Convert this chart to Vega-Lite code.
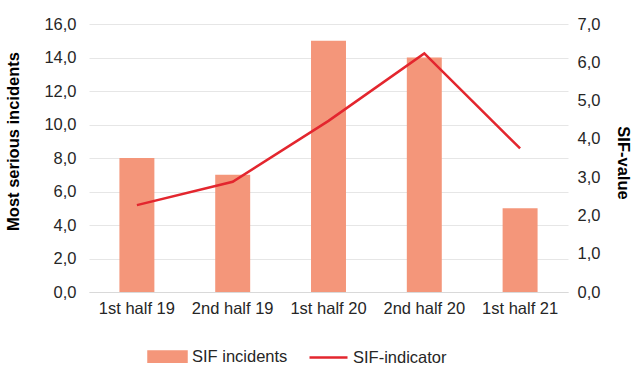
{
  "$schema": "https://vega.github.io/schema/vega-lite/v6.json",
  "width": 479,
  "height": 268,
  "autosize": "none",
  "padding": {"left": 89, "top": 24, "right": 69, "bottom": 80},
  "config": {
    "font": "Liberation Sans",
    "view": {"stroke": null},
    "axis": {"labelFontSize": 16.5, "labelColor": "#262626", "titleFontSize": 16.5, "titleFontWeight": "bold", "titleColor": "#000000"}
  },
  "data": {
    "values": [
      {"period": "1st half 19", "incidents": 8, "sif": 2.27},
      {"period": "2nd half 19", "incidents": 7, "sif": 2.88},
      {"period": "1st half 20", "incidents": 15, "sif": 4.47},
      {"period": "2nd half 20", "incidents": 14, "sif": 6.23},
      {"period": "1st half 21", "incidents": 5, "sif": 3.75}
    ]
  },
  "encoding": {
    "x": {
      "field": "period", "type": "nominal", "sort": null,
      "scale": {"paddingInner": 0.635, "paddingOuter": 0.3175},
      "axis": {"title": null, "labelAngle": 0, "ticks": false, "domainColor": "#D9D9D9", "labelPadding": 8, "grid": false}
    }
  },
  "layer": [
    {
      "mark": {"type": "bar"},
      "encoding": {
        "y": {
          "field": "incidents", "type": "quantitative",
          "scale": {"domain": [0, 16]},
          "axis": {
            "values": [0, 2, 4, 6, 8, 10, 12, 14, 16],
            "labelExpr": "replace(format(datum.value, '.1f'), '.', ',')",
            "domain": false, "ticks": false, "labelPadding": 13,
            "grid": true, "gridColor": "#E6E6E6",
            "title": "Most serious incidents",
            "titleAngle": -90, "titleX": -76, "titleY": 117, "titleBaseline": "middle", "titleAlign": "center"
          }
        },
        "color": {
          "datum": "SIF incidents", "type": "nominal",
          "scale": {"domain": ["SIF incidents", "SIF-indicator"], "range": ["#F4967A", "#E3262E"]},
          "legend": {
            "title": null, "orient": "none", "direction": "horizontal",
            "legendX": 58, "legendY": 312,
            "labelFontSize": 16.5, "labelColor": "#262626",
            "symbolSize": 1444, "labelOffset": 4, "columnPadding": 16,
            "encode": {
              "symbols": {
                "update": {
                  "shape": {"signal": "datum.value === 'SIF incidents' ? 'M-1,-0.27H1V0.27H-1Z' : 'M-1,0H1'"},
                  "fill": {"signal": "datum.value === 'SIF incidents' ? '#F4967A' : 'transparent'"},
                  "stroke": {"signal": "datum.value === 'SIF incidents' ? 'transparent' : '#E3262E'"},
                  "strokeWidth": {"value": 2.5},
                  "opacity": {"value": 1}
                }
              }
            }
          }
        }
      }
    },
    {
      "mark": {"type": "line", "strokeWidth": 2.5},
      "encoding": {
        "y": {
          "field": "sif", "type": "quantitative",
          "scale": {"domain": [0, 7]},
          "axis": {
            "values": [0, 1, 2, 3, 4, 5, 6, 7],
            "labelExpr": "replace(format(datum.value, '.1f'), '.', ',')",
            "domain": false, "ticks": false, "labelPadding": 9, "grid": false,
            "title": "SIF-value",
            "titleAngle": 90, "titleX": 54.5, "titleY": 138.5, "titleBaseline": "middle", "titleAlign": "center"
          }
        },
        "color": {"datum": "SIF-indicator", "type": "nominal"}
      }
    }
  ],
  "resolve": {"scale": {"y": "independent"}}
}
